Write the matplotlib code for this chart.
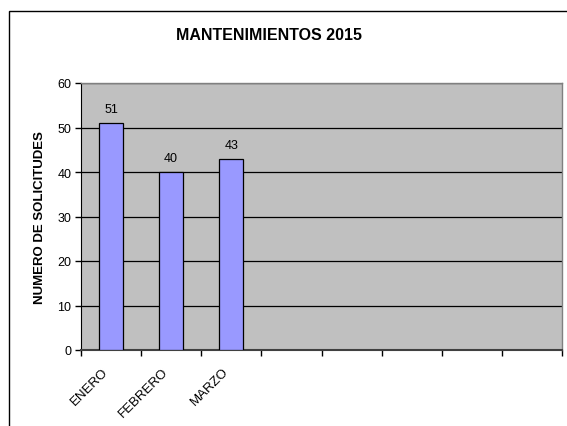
import matplotlib
matplotlib.use("Agg")
import matplotlib.pyplot as plt
from matplotlib.patches import Rectangle
from matplotlib.transforms import ScaledTranslation

plt.rcParams['font.family'] = ['Liberation Sans', 'DejaVu Sans']

meses = ["ENERO", "FEBRERO", "MARZO"]
solicitudes = [51, 40, 43]
titulo = "MANTENIMIENTOS 2015"
eje_y = "NUMERO DE SOLICITUDES"
n_slots = 8

W, H = 567, 427
fig = plt.figure(figsize=(W / 100, H / 100), dpi=100)

# marco exterior del grafico (se sale por la derecha y abajo)
fig.patches.append(Rectangle((9 / W, -0.1), 1.2, (H - 12) / H + 0.1,
                             transform=fig.transFigure, fill=False,
                             edgecolor='black', linewidth=1.0))

ax = fig.add_axes([81 / W, (H - 351) / H, (562 - 81) / W, (351 - 84) / H])
ax.set_facecolor('#C0C0C0')

x = list(range(len(meses)))
ax.bar(x, solicitudes, width=0.4, color='#9999FF', edgecolor='black',
       linewidth=0.9, zorder=3)
for xi, v in zip(x, solicitudes):
    ax.text(xi, v + 1.8, str(v), ha='center', va='bottom', fontsize=9)

ax.set_xlim(-0.5, n_slots - 0.5)
ax.set_ylim(0, 60)
ax.set_yticks(range(0, 61, 10))
ax.yaxis.grid(True, color='black', linewidth=0.9, zorder=1)
ax.set_axisbelow(True)

ax.set_xticks(x)
ax.set_xticklabels(meses, rotation=45, ha='right', va='top',
                   rotation_mode='anchor', fontsize=9.5)
ax.tick_params(axis='x', which='major', length=0, pad=11)
shift = ScaledTranslation(-9 / 100, 0, fig.dpi_scale_trans)
for lbl in ax.get_xticklabels():
    lbl.set_transform(lbl.get_transform() + shift)
ax.set_xticks([i - 0.5 for i in range(n_slots + 1)], minor=True)
ax.tick_params(axis='x', which='minor', length=4, width=1, direction='out')
ax.tick_params(axis='y', length=4, width=1, direction='out', labelsize=9, pad=3)

for s in ['top', 'right']:
    ax.spines[s].set_color('#808080')
    ax.spines[s].set_linewidth(1.0)
ax.spines['left'].set_color('black')
ax.spines['bottom'].set_color('#404040')
ax.spines['bottom'].set_linewidth(1.5)

ax.set_ylabel(eje_y, fontsize=9.5, fontweight='bold', labelpad=8)
fig.text(269 / W, 1 - 36 / H, titulo, ha='center', va='center',
         fontsize=11.5, fontweight='bold')

fig.savefig("out.png", dpi=100)
